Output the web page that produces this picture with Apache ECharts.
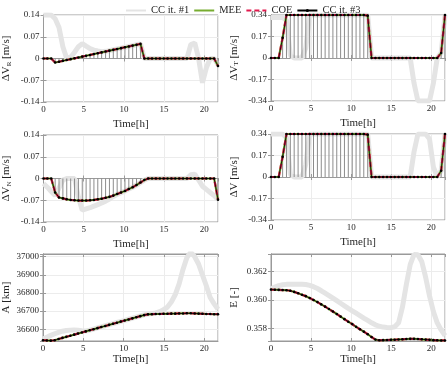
<!DOCTYPE html>
<html>
<head>
<meta charset="utf-8">
<script src="https://cdn.jsdelivr.net/npm/echarts@6/dist/echarts.min.js"></script>
<style>
  html, body { margin: 0; padding: 0; background: #fff; }
  #box { width: 448px; height: 368px; }
</style>
</head>
<body>
<div id="box"></div>
<script>
// sample times [h]
const time = [0, 0.48, 0.96, 1.45, 1.93, 2.41, 2.89, 3.38, 3.86, 4.34,
  4.82, 5.30, 5.79, 6.27, 6.75, 7.23, 7.72, 8.20, 8.68, 9.16,
  9.64, 10.13, 10.61, 11.09, 11.57, 12.06, 12.54, 13.02, 13.50, 13.98,
  14.47, 14.95, 15.43, 15.91, 16.39, 16.88, 17.36, 17.84, 18.32, 18.81,
  19.29, 19.77, 20.25, 20.73, 21.22, 21.70];

// delta V radial
const dvrIt1 = [0.14, 0.141, 0.14, 0.128, 0.1, 0.038, 0, 0.004, 0.02, 0.038,
  0.048, 0.04, 0.032, 0.027, 0.024, 0.022, 0.023, 0.0255, 0.028, 0.031,
  0.0335, 0.036, 0.039, 0.0415, 0.0443, 0.047, 0, 0, 0, 0,
  0, 0, 0, 0, 0, 0, 0, 0, 0.045, 0.05,
  0, -0.078, -0.03, 0, 0, -0.02];
const dvrIt3 = [0, 0, 0, -0.013, -0.0103, -0.0076, -0.0049, -0.0021, 0.0006, 0.0033,
  0.0061, 0.0088, 0.0115, 0.0143, 0.017, 0.0197, 0.0225, 0.0252, 0.0279, 0.0306,
  0.0333, 0.0361, 0.0388, 0.0415, 0.0443, 0.047, 0, 0, 0, 0,
  0, 0, 0, 0, 0, 0, 0, 0, 0, 0,
  0, 0, 0, 0, 0, -0.024];

// delta V tangential
const dvtIt1 = [0.32, 0.32, 0.32, 0.32, 0.3, 0.02, 0, 0, 0, 0.08,
  0.34, 0.34, 0.34, 0.34, 0.34, 0.34, 0.34, 0.34, 0.34, 0.34,
  0.34, 0.34, 0.34, 0.34, 0.34, 0.34, 0, 0, 0, 0,
  0, 0, 0, 0, 0, 0, 0, -0.2, -0.34, -0.34,
  -0.34, -0.34, -0.2, 0, 0.04, 0.34];
const dvtIt3 = [0, 0, 0, 0.16, 0.34, 0.34, 0.34, 0.34, 0.34, 0.34,
  0.34, 0.34, 0.34, 0.34, 0.34, 0.34, 0.34, 0.34, 0.34, 0.34,
  0.34, 0.34, 0.34, 0.34, 0.34, 0.335, 0, 0, 0, 0,
  0, 0, 0, 0, 0, 0, 0, 0, 0, 0,
  0, 0, 0, 0, 0.04, 0.34];

// delta V normal
const dvnIt1 = [-0.016, -0.028, -0.042, -0.055, -0.03, -0.005, 0, 0, 0, -0.06,
  -0.102, -0.098, -0.094, -0.089, -0.084, -0.079, -0.073, -0.066, -0.058, -0.051,
  -0.046, -0.04, -0.034, -0.028, -0.021, -0.013, -0.005, 0, 0, 0,
  0, 0, 0, 0, 0, 0, 0, 0, 0.012, 0.014,
  -0.005, -0.025, -0.035, -0.045, -0.055, -0.068];
const dvnIt3 = [0, 0, 0, -0.045, -0.061, -0.064, -0.067, -0.069, -0.07, -0.071,
  -0.071, -0.071, -0.07, -0.069, -0.067, -0.065, -0.062, -0.059, -0.055, -0.05,
  -0.045, -0.04, -0.034, -0.028, -0.021, -0.013, -0.005, 0, 0, 0,
  0, 0, 0, 0, 0, 0, 0, 0, 0, 0,
  0, 0, 0, 0, 0, -0.068];

// delta V magnitude
const dvIt1 = [0.34, 0.34, 0.34, 0.34, 0.31, 0.02, 0, 0, 0, 0.1,
  0.34, 0.34, 0.34, 0.34, 0.34, 0.34, 0.34, 0.34, 0.34, 0.34,
  0.34, 0.34, 0.34, 0.34, 0.34, 0.34, 0, 0, 0, 0,
  0, 0, 0, 0, 0, 0, 0, 0.2, 0.34, 0.34,
  0.34, 0.3, 0.08, 0, 0.05, 0.34];
const dvIt3 = [0, 0, 0, 0.16, 0.34, 0.34, 0.34, 0.34, 0.34, 0.34,
  0.34, 0.34, 0.34, 0.34, 0.34, 0.34, 0.34, 0.34, 0.34, 0.34,
  0.34, 0.34, 0.34, 0.34, 0.34, 0.335, 0, 0, 0, 0,
  0, 0, 0, 0, 0, 0, 0, 0, 0, 0,
  0, 0, 0, 0, 0.05, 0.34];

// semi-major axis [km]
const smaIt1 = [36546, 36556, 36566, 36575, 36583, 36589, 36593, 36595, 36596, 36595,
  36592, 36590, 36595, 36601, 36607, 36613, 36619, 36625, 36631, 36637,
  36643, 36649, 36655, 36661, 36667, 36673, 36679, 36684, 36686, 36690,
  36697, 36708, 36722, 36750, 36790, 36850, 36930, 36995, 37025, 37000,
  36960, 36900, 36840, 36775, 36740, 36710];
const smaIt3 = [36539, 36538, 36537, 36539, 36546, 36552, 36558, 36564, 36570, 36576,
  36582, 36588, 36594, 36600, 36606, 36612, 36618, 36624, 36630, 36636,
  36642, 36648, 36654, 36660, 36666, 36672, 36678, 36682, 36683, 36684,
  36684, 36685, 36685, 36686, 36686, 36687, 36687, 36688, 36688, 36687,
  36686, 36685, 36684, 36684, 36683, 36683];

// eccentricity [-]
const eccIt1 = [0.3608, 0.36092, 0.36102, 0.36108, 0.36111, 0.36112, 0.36112, 0.36112, 0.36111, 0.3611,
  0.36104, 0.36095, 0.36082, 0.36066, 0.36049, 0.36032, 0.36014, 0.35996, 0.35978, 0.3596,
  0.35942, 0.35925, 0.35908, 0.35891, 0.35874, 0.35857, 0.3584, 0.35826, 0.35816, 0.3581,
  0.35807, 0.35806, 0.35812, 0.3584, 0.3595, 0.3611, 0.3625, 0.36322, 0.3632, 0.3627,
  0.3616, 0.3603, 0.3592, 0.3584, 0.3579, 0.3575];
const eccIt3 = [0.36074, 0.36073, 0.36072, 0.36071, 0.3607, 0.36066, 0.36058, 0.36048, 0.36038, 0.36028,
  0.36015, 0.36001, 0.35986, 0.3597, 0.35954, 0.35937, 0.3592, 0.35902, 0.35884, 0.35866,
  0.35848, 0.35831, 0.35812, 0.35795, 0.35778, 0.3576, 0.3574, 0.35722, 0.35717, 0.35718,
  0.35719, 0.3572, 0.35721, 0.35723, 0.35724, 0.35726, 0.35727, 0.35727, 0.35726, 0.35724,
  0.35722, 0.3572, 0.35718, 0.35717, 0.35716, 0.35716];

// MEE and COE solutions lie on top of the CC it. #3 points
const dvrMEE = dvrIt3, dvrCOE = dvrIt3;
const dvtMEE = dvtIt3, dvtCOE = dvtIt3;
const dvnMEE = dvnIt3, dvnCOE = dvnIt3;
const dvMEE = dvIt3, dvCOE = dvIt3;
const smaMEE = smaIt3, smaCOE = smaIt3;
const eccMEE = eccIt3, eccCOE = eccIt3;

const FONT = 'Liberation Serif';
const TXT = '#262626';
const FRAME = '#9a9a9a';
const GRIDC = '#ececec';
const GREY = '#e4e4e4';
const GREEN = '#77ac30';
const RED = '#e2194d';

function pairs(ys) {
  return time.map((t, i) => [t, ys[i]]);
}

const grids = [
  { left: 40, top: 15, width: 178, height: 87 },
  { left: 271, top: 15, width: 174, height: 86 },
  { left: 40, top: 135, width: 178, height: 87 },
  { left: 271, top: 134, width: 174, height: 86 },
  { left: 40, top: 254, width: 178, height: 87 },
  { left: 271, top: 254, width: 174, height: 87 }
].map(g => Object.assign({ show: true, borderColor: FRAME, borderWidth: 1, backgroundColor: '#fff' }, g));

function xAxis(k, gap) {
  return {
    type: 'value', gridIndex: k, min: 0, max: 21.7, interval: 5,
    name: 'Time[h]', nameLocation: 'middle', nameGap: gap,
    nameTextStyle: { fontFamily: FONT, fontSize: 11, color: TXT },
    axisLine: { show: true, lineStyle: { color: FRAME } },
    axisTick: { show: true, inside: true, length: 3, lineStyle: { color: FRAME } },
    axisLabel: { fontFamily: FONT, fontSize: 9, color: TXT, margin: 3, showMaxLabel: false },
    splitLine: { show: true, lineStyle: { color: GRIDC } }
  };
}

// tick marks only, on the top edge of a box
function xMirror(k) {
  return {
    type: 'value', gridIndex: k, position: 'top', min: 0, max: 21.7, interval: 5,
    axisLine: { show: true, lineStyle: { color: FRAME } },
    axisTick: { show: true, inside: true, length: 3, lineStyle: { color: FRAME } },
    axisLabel: { show: false }, splitLine: { show: false }
  };
}

function yAxis(k, name, sub, extra) {
  return Object.assign({
    type: 'value', gridIndex: k,
    name: sub ? name + '{s|' + sub + '} [m/s]' : name,
    nameLocation: 'middle', nameGap: 31,
    nameTextStyle: {
      fontFamily: FONT, fontSize: 11, color: TXT,
      rich: { s: { fontFamily: FONT, fontSize: 7, color: TXT, padding: [5, 0, 0, 0] } }
    },
    axisLine: { show: true, lineStyle: { color: FRAME } },
    axisTick: { show: true, inside: true, length: 3, lineStyle: { color: FRAME } },
    axisLabel: { fontFamily: FONT, fontSize: 9, color: TXT, margin: 4 },
    splitLine: { show: true, lineStyle: { color: GRIDC } }
  }, extra);
}

// tick marks only, on the right edge of a box
function yMirror(k, extra) {
  return Object.assign({
    type: 'value', gridIndex: k, position: 'right',
    axisLine: { show: true, lineStyle: { color: FRAME } },
    axisTick: { show: true, inside: true, length: 3, lineStyle: { color: FRAME } },
    axisLabel: { show: false }, splitLine: { show: false }
  }, extra);
}

function panel(k, it1, mee, coe, it3, stems) {
  const list = [
    { name: 'CC it. #1', type: 'line', xAxisIndex: k, yAxisIndex: k, data: pairs(it1),
      symbol: 'none', lineStyle: { color: GREY, width: 5 }, itemStyle: { color: GREY }, z: 1 }
  ];
  if (stems) {
    list.push({ name: 'stem', type: 'bar', xAxisIndex: k, yAxisIndex: k, data: pairs(it3),
      barWidth: 1, itemStyle: { color: '#8c8c8c' }, z: 2 });
  }
  list.push(
    { name: 'MEE', type: 'line', xAxisIndex: k, yAxisIndex: k, data: pairs(mee),
      symbol: 'none', lineStyle: { color: GREEN, width: 2.2 }, itemStyle: { color: GREEN }, z: 3 },
    { name: 'COE', type: 'line', xAxisIndex: k, yAxisIndex: k, data: pairs(coe),
      symbol: 'none', lineStyle: { color: RED, width: 2.2, type: [5, 3] }, itemStyle: { color: RED }, z: 4 },
    { name: 'CC it. #3', type: 'line', xAxisIndex: k, yAxisIndex: k, data: pairs(it3),
      symbol: 'circle', symbolSize: 2.6, showSymbol: true,
      lineStyle: { color: '#000', width: 0.8 }, itemStyle: { color: '#000' }, z: 5 }
  );
  return list;
}

const noMark = { opacity: 0 };
const rangeDV = { min: -0.34, max: 0.34, interval: 0.17 };
const rangeSmall = { min: -0.14, max: 0.14, interval: 0.07 };
const rangeA = { min: 36535, max: 37015, splitNumber: 5 };
const rangeE = { min: 0.35712, max: 0.36325, splitNumber: 3 };

const chart = echarts.init(document.getElementById('box'));
chart.setOption({
  animation: false,
  backgroundColor: '#fff',
  legend: {
    top: 0, left: 120, itemWidth: 20, itemHeight: 4, itemGap: 4,
    textStyle: { fontFamily: FONT, fontSize: 10.5, color: TXT },
    data: [
      { name: 'CC it. #1', itemStyle: noMark },
      { name: 'MEE', itemStyle: noMark },
      { name: 'COE', itemStyle: noMark },
      { name: 'CC it. #3' }
    ]
  },
  grid: grids,
  xAxis: [xAxis(0, 17), xAxis(1, 17), xAxis(2, 17), xAxis(3, 17), xAxis(4, 13), xAxis(5, 13),
    xMirror(0), xMirror(1), xMirror(2), xMirror(3), xMirror(4), xMirror(5)],
  yAxis: [
    yAxis(0, 'ΔV', 'R', rangeSmall),
    yAxis(1, 'ΔV', 'T', rangeDV),
    yAxis(2, 'ΔV', 'N', rangeSmall),
    yAxis(3, 'ΔV [m/s]', null, rangeDV),
    yAxis(4, 'A [km]', null, Object.assign({
      axisLabel: { fontFamily: FONT, fontSize: 9, color: TXT, margin: 4, showMinLabel: false, showMaxLabel: false,
        formatter: v => String(Math.round(v)) } }, rangeA)),
    yAxis(5, 'E [-]', null, Object.assign({
      axisLabel: { fontFamily: FONT, fontSize: 9, color: TXT, margin: 4, showMinLabel: false, showMaxLabel: false,
        formatter: v => v.toFixed(3) } }, rangeE)),
    yMirror(0, rangeSmall), yMirror(1, rangeDV), yMirror(2, rangeSmall),
    yMirror(3, rangeDV), yMirror(4, rangeA), yMirror(5, rangeE)
  ],
  series: [].concat(
    panel(0, dvrIt1, dvrMEE, dvrCOE, dvrIt3, true),
    panel(1, dvtIt1, dvtMEE, dvtCOE, dvtIt3, true),
    panel(2, dvnIt1, dvnMEE, dvnCOE, dvnIt3, true),
    panel(3, dvIt1, dvMEE, dvCOE, dvIt3, true),
    panel(4, smaIt1, smaMEE, smaCOE, smaIt3, false),
    panel(5, eccIt1, eccMEE, eccCOE, eccIt3, false)
  )
});
</script>
</body>
</html>
